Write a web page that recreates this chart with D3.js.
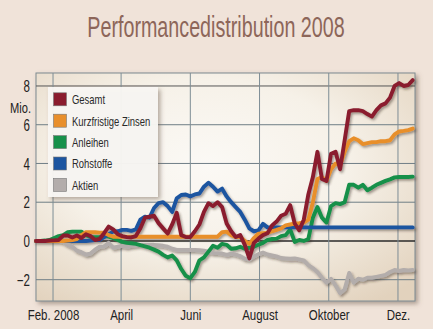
<!DOCTYPE html>
<html><head><meta charset="utf-8">
<script src="https://cdn.jsdelivr.net/npm/d3@7"></script>
<style>
html,body{margin:0;padding:0;background:#f0e3d9;}
svg{display:block;}
text{font-family:"Liberation Sans",Arial,sans-serif;}
</style></head>
<body>
<script>
const title = "Performancedistribution 2008";
const seriesNames = ["Gesamt","Kurzfristige Zinsen","Anleihen","Rohstoffe","Aktien"];
const seriesColors = ["#8a1c2e","#e88f2c","#17904a","#1c55a0","#b3adab"];
const tickLabels = ["Feb. 2008","April","Juni","August","Oktober","Dez."];
const tickDates = [new Date(2008,1,1),new Date(2008,3,1),new Date(2008,5,1),new Date(2008,7,1),new Date(2008,9,1),new Date(2008,11,1)];
const yTicks = [-2,0,2,4,6,8];
// observations every 4 days from 17 Jan 2008
const dates = d3.range(84).map(i => new Date(2008,0,17+4*i));

const gesamt = [0,0,0,0.02,0.03,0.05,0.28,0.28,0.18,0.28,0.15,0.35,0.25,0.05,0.1,0.4,0.74,0.6,0.35,0.25,
0.2,0.18,0.25,0.65,1.2,1.25,1.3,0.92,0.65,0.38,0.85,1.45,0.3,0.2,0.2,0.5,0.85,1.5,1.95,1.8,
2.0,1.75,0.9,0.5,0.2,0.3,-0.2,-0.9,-0.1,0.12,0.3,0.4,0.8,1.0,1.3,1.4,1.85,0.9,0.55,1.1,
2.4,3.3,4.6,3.2,3.1,4.5,4.6,3.7,5.2,6.7,6.75,6.75,6.7,6.55,6.42,6.75,7.0,7.1,7.4,8.0,
8.15,8.0,8.05,8.3];
const zinsen = [0,0,0,0,0,0,0,0.02,0.05,0.1,0.3,0.45,0.45,0.45,0.43,0.43,0.3,0.22,0.22,0.22,
0.22,0.22,0.22,0.22,0.22,0.22,0.22,0.22,0.22,0.22,0.22,0.22,0.22,0.22,0.22,0.22,0.22,0.22,0.22,0.22,
0.22,0.45,0.48,0.3,0.2,0.22,0.0,-0.15,0.15,0.38,0.4,0.42,0.5,0.57,0.65,0.8,0.85,0.9,0.92,0.95,
1.1,2.0,3.2,3.3,3.1,3.7,4.0,3.9,4.6,5.15,5.3,5.2,5.0,5.05,5.1,5.1,5.15,5.15,5.2,5.5,
5.65,5.68,5.72,5.8];
const anleihen = [0,0,0.02,0.05,0.15,0.25,0.3,0.45,0.48,0.48,0.48,0.3,0.2,0.2,0.2,0.25,0.22,0.15,0.05,-0.05,
-0.1,-0.12,-0.15,-0.22,-0.28,-0.35,-0.45,-0.55,-0.72,-0.85,-0.75,-1.0,-1.45,-1.8,-1.92,-1.6,-1.0,-0.85,-0.55,-0.25,
-0.35,-0.15,-0.2,-0.4,-0.38,-0.3,-0.4,-0.35,-0.3,-0.2,-0.1,0.05,0.1,0.12,0.25,0.3,0.6,-0.05,0.05,0.0,
0.1,1.2,1.75,1.2,0.95,1.8,1.95,1.9,2.0,2.9,2.9,2.75,2.9,2.62,2.75,2.9,3.0,3.1,3.18,3.28,
3.3,3.3,3.3,3.32];
const rohstoffe = [0,0,0,0,0,0,0,0,0,0,0,0,0.02,0.05,0.05,0.2,0.35,0.48,0.5,0.57,
0.57,0.52,0.6,1.1,1.25,1.2,1.7,1.95,2.0,1.8,1.5,2.2,2.37,2.4,2.3,2.4,2.45,2.8,3.0,2.8,
2.55,2.7,2.3,2.0,1.75,1.5,1.1,0.65,0.5,0.55,0.88,0.7,0.7,0.7,0.7,0.7,0.7,0.7,0.7,0.7,
0.7,0.7,0.7,0.7,0.7,0.7,0.7,0.7,0.7,0.7,0.7,0.7,0.7,0.7,0.7,0.7,0.7,0.7,0.7,0.7,
0.7,0.7,0.7,0.7];
const aktien = [0,0,0,0,0,0,-0.05,-0.2,-0.3,-0.5,-0.58,-0.7,-0.65,-0.45,-0.3,-0.28,-0.1,-0.35,-0.3,-0.25,
-0.3,-0.25,-0.22,-0.2,-0.2,-0.2,-0.2,-0.22,-0.25,-0.3,-0.4,-0.46,-0.46,-0.46,-0.47,-0.47,-0.48,-0.5,-0.55,-0.62,
-0.63,-0.65,-0.72,-0.65,-0.7,-0.78,-0.92,-0.95,-0.8,-0.68,-0.6,-0.7,-0.75,-0.8,-0.88,-0.9,-0.92,-0.9,-0.95,-1.0,
-1.25,-1.4,-1.6,-1.9,-2.15,-1.95,-2.3,-2.7,-2.5,-1.65,-2.15,-1.95,-2.0,-1.9,-1.9,-1.85,-1.8,-1.75,-1.6,-1.5,
-1.55,-1.5,-1.52,-1.5];
const seriesValues = [gesamt, zinsen, anleihen, rohstoffe, aktien];

const W = 433, H = 329;
const L = 36, R = 415, T = 73, B = 301;
const svg = d3.select("body").append("svg").attr("width",W).attr("height",H);
const defs = svg.append("defs");
const rg = defs.append("radialGradient").attr("id","bg").attr("cx","45%").attr("cy","40%").attr("r","75%");
rg.append("stop").attr("offset","0%").attr("stop-color","#fbf9f5");
rg.append("stop").attr("offset","50%").attr("stop-color","#f6f1e8");
rg.append("stop").attr("offset","100%").attr("stop-color","#e2d2bd");
const f = defs.append("filter").attr("id","sh").attr("x","-10%").attr("y","-10%").attr("width","130%").attr("height","130%");
f.append("feDropShadow").attr("dx",1.5).attr("dy",1.8).attr("stdDeviation",1).attr("flood-color","#3a2a20").attr("flood-opacity",0.45);
const f2 = defs.append("filter").attr("id","bsh").attr("x","-10%").attr("y","-10%").attr("width","130%").attr("height","130%");
f2.append("feDropShadow").attr("dx",2.5).attr("dy",2.5).attr("stdDeviation",2).attr("flood-color","#6a5a4a").attr("flood-opacity",0.5);

// condense text horizontally (narrow typeface look)
function condense(sel, factor){
  sel.each(function(){
    const w = this.getComputedTextLength();
    d3.select(this).attr("textLength", w*factor).attr("lengthAdjust","spacingAndGlyphs");
  });
}

svg.append("g").attr("transform","translate(216,37) scale(0.68,1)")
  .append("text").attr("x",0).attr("y",0).attr("text-anchor","middle")
  .attr("font-size",29).attr("fill","#8d6659").text(title);

const x = d3.scaleTime().domain([new Date(2008,0,17), new Date(2008,11,16)]).range([L,R]);
const y = d3.scaleLinear().domain([-3.1, 8.67]).range([B,T]);

svg.append("rect").attr("x",L).attr("y",T).attr("width",R-L).attr("height",B-T)
  .attr("fill","url(#bg)").attr("stroke","#7d8a90").attr("stroke-width",1).attr("filter","url(#bsh)");

const grid = svg.append("g");
grid.selectAll("line.h").data(yTicks).join("line")
  .attr("x1",L).attr("x2",R).attr("y1",d=>y(d)).attr("y2",d=>y(d))
  .attr("stroke",d=>d===0?"#2a2a2a":(d===8?"#555":"#6f7e86")).attr("stroke-width",d=>d===0?1.6:1);
grid.selectAll("line.v").data(tickDates).join("line")
  .attr("x1",d=>x(d)).attr("x2",d=>x(d)).attr("y1",T).attr("y2",B)
  .attr("stroke","#7d8d95").attr("stroke-width",1);

// axes labels
const yAxis = d3.axisLeft(y).tickValues(yTicks).tickSize(0).tickPadding(4)
  .tickFormat(d => d<0 ? "\u2212"+Math.abs(d) : String(d));
const ya = svg.append("g").attr("transform",`translate(${L-2},0)`).call(yAxis);
ya.select(".domain").remove();
ya.selectAll("text").attr("font-size",16).attr("fill","#222").attr("dy","0.36em").call(condense,0.72);
svg.append("text").attr("x",31).attr("y",113).attr("text-anchor","end").attr("font-size",15).attr("fill","#222").text("Mio.").call(condense,0.74);

const xAxis = d3.axisBottom(x).tickValues(tickDates).tickSize(0).tickPadding(8)
  .tickFormat((d,i)=>tickLabels[i]);
const xa = svg.append("g").attr("transform",`translate(0,${B})`).call(xAxis);
xa.select(".domain").remove();
xa.selectAll("text").attr("font-size",15.5).attr("fill","#222").call(condense,0.74);

const line = d3.line().x((d,i)=>x(dates[i])).y(d=>y(d)).curve(d3.curveLinear);
const order = [4,2,3,1,0];
const lg = svg.append("g").attr("filter","url(#sh)");
order.forEach(k=>{
  lg.append("path").datum(seriesValues[k]).attr("d",line)
    .attr("fill","none").attr("stroke",seriesColors[k]).attr("stroke-width",3.9)
    .attr("stroke-linejoin","round").attr("stroke-linecap","round");
});

// legend
const leg = svg.append("g");
leg.append("rect").attr("x",48).attr("y",87).attr("width",110).attr("height",110)
  .attr("fill","#f9f7f3").attr("fill-opacity",0.95).attr("filter","url(#bsh)");
seriesNames.forEach((n,i)=>{
  const cy = 99.3 + i*21.4;
  leg.append("rect").attr("x",53.5).attr("y",cy-6.5).attr("width",13).attr("height",13)
    .attr("fill",seriesColors[i]).attr("stroke","#777").attr("stroke-width",0.6);
  leg.append("text").attr("x",72).attr("y",cy).attr("dy","0.36em").attr("font-size",13.5)
    .attr("fill","#2a2a2a").text(n).call(condense,0.7);
});
</script>
</body></html>
